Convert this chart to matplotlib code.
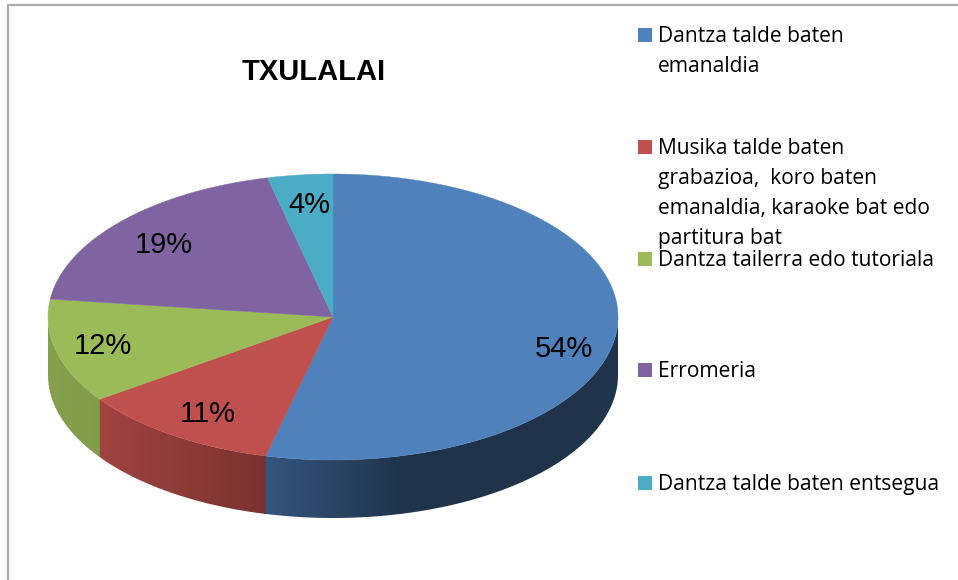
import numpy as np
import matplotlib.pyplot as plt
from matplotlib.colors import to_rgb
from matplotlib.patches import Polygon, Rectangle

# Chart data
title = 'TXULALAI'
categories = ['Dantza talde baten\nemanaldia',
              'Musika talde baten\ngrabazioa,  koro baten\nemanaldia, karaoke bat edo\npartitura bat',
              'Dantza tailerra edo tutoriala',
              'Erromeria',
              'Dantza talde baten entsegua']
values = [53.8, 11.45, 11.75, 19.3, 3.7]
colors = ['#4f81bd', '#c0504d', '#9bbb59', '#8064a2', '#4bacc6']

# Layout, in pixels of the 958x580 picture
cx, cy, rx, ry, depth = 333, 317, 285, 143, 58
label_pos = [(564, 349), (208, 414), (103, 346), (164, 245), (309, 205)]
legend_y = [35, 147, 259, 370, 483]
# how dark the side of each slice is, against x position
side_x = [[265, 400], [98, 265], [48, 98], [0, 1], [0, 1]]
side_shade = [[0.66, 0.40], [0.84, 0.63], [0.86, 0.84], [0.8, 0.8], [0.8, 0.8]]

fig = plt.figure(figsize=(9.58, 5.8), dpi=100)
ax = fig.add_axes([0, 0, 1, 1])


# Point on the pie rim. Angle in degrees, clockwise from the top
def rim(angle, drop=0):
    t = np.radians(angle)
    return cx + rx * np.sin(t), cy - ry * np.cos(t) + drop


# Chart frame, only the top and left edges are in the crop
ax.plot([8, 8, 958], [580, 5, 5], color='#ababab', lw=1.6, solid_joinstyle='miter')

edges = np.cumsum([0] + values) / sum(values) * 360

# Side wall, only the front half of the rim shows
for i in range(len(values)):
    a0 = max(edges[i], 90)
    a1 = min(edges[i + 1] + 0.4, 270)  # small overlap so no seam shows between slices
    if a1 <= a0:
        continue
    angles = np.linspace(a0, a1, 200)
    xs, ys = rim(angles)
    pts = list(zip(xs, ys)) + list(zip(xs[::-1], ys[::-1] + depth))
    wall = Polygon(pts, closed=True, facecolor='none', edgecolor='none')
    ax.add_patch(wall)
    # Horizontal gradient, clipped to the wall shape
    grid = np.linspace(xs.min(), xs.max(), 400)
    shade = np.interp(grid, side_x[i], side_shade[i])
    img = np.array(to_rgb(colors[i])) * shade[:, None]
    im = ax.imshow(img[None, :, :], extent=(xs.min(), xs.max(), ys.max() + depth, ys.min()),
                   aspect='auto', interpolation='bilinear')
    im.set_clip_path(wall)

# Top face
for i in range(len(values)):
    angles = np.linspace(edges[i], edges[i + 1], 200)
    xs, ys = rim(angles)
    pts = [(cx, cy)] + list(zip(xs, ys))
    ax.add_patch(Polygon(pts, closed=True, facecolor=colors[i], edgecolor=colors[i], lw=0.3))

# Percent labels
for v, (x, y) in zip(values, label_pos):
    ax.text(x, y, '%d%%' % round(v), ha='center', va='center', fontsize=21,
            family='Liberation Sans', color='black')

ax.text(314, 72, title, ha='center', va='center', fontsize=21, fontweight='bold',
        family='Liberation Sans', color='black')

# Legend
for name, y, c in zip(categories, legend_y, colors):
    ax.add_patch(Rectangle((638, y - 7), 14, 14, facecolor=c, edgecolor='none'))
    ax.text(658, y - 9, name, ha='left', va='top', fontsize=15.1, family='Open Sans',
            color='black', linespacing=1.57)

ax.set_xlim(0, 958)
ax.set_ylim(580, 0)
ax.axis('off')

fig.savefig('out.png', dpi=100)
